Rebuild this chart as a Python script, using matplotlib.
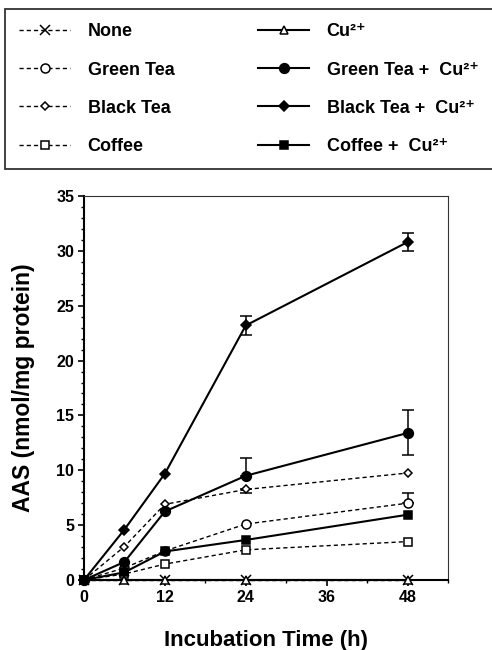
import matplotlib
matplotlib.use('Agg')
import matplotlib.pyplot as plt
from matplotlib.ticker import MultipleLocator
import numpy as np

plt.rcParams['font.family'] = ['Liberation Sans', 'DejaVu Sans']
plt.rcParams['font.weight'] = 'bold'

# ---- data ----
time_h = [0, 6, 12, 24, 48]
none_vals = [0, 0, 0, 0, 0]
green_tea = [0, 1.1, 2.65, 5.1, 7.0]
green_tea_err_lo = [0, 0, 0, 0, 0]
green_tea_err_hi = [0, 0, 0, 0, 0.9]
black_tea = [0, 3.05, 6.9, 8.25, 9.75]
black_tea_err_lo = [0, 0, 0, 0.35, 0]
black_tea_err_hi = [0, 0, 0, 0, 0]
coffee = [0, 0.55, 1.45, 2.75, 3.5]
cu_only = [0, 0, 0, 0, 0]
green_tea_cu = [0, 1.65, 6.25, 9.5, 13.4]
green_tea_cu_err_lo = [0, 0, 0, 0, 2.05]
green_tea_cu_err_hi = [0, 0, 0, 1.6, 2.05]
black_tea_cu = [0, 4.6, 9.7, 23.2, 30.8]
black_tea_cu_err_lo = [0, 0, 0, 0.9, 0.85]
black_tea_cu_err_hi = [0, 0, 0, 0.9, 0.85]
coffee_cu = [0, 0.7, 2.6, 3.65, 5.95]

labels = ['None', 'Green Tea', 'Black Tea', 'Coffee',
          'Cu²⁺', 'Green Tea +  Cu²⁺', 'Black Tea +  Cu²⁺', 'Coffee +  Cu²⁺']

fig = plt.figure(figsize=(4.92, 6.5), dpi=100)
ax = fig.add_axes([84/492, 1-580/650, 364/492, 384/650])

dash = dict(ls=(0, (3.0, 2.2)), lw=1.0)
solid = dict(ls='-', lw=1.5)

series = [
    (none_vals, 'x', 'black', dash, 7, None, None),
    (green_tea, 'o', 'white', dash, 6.5, green_tea_err_lo, green_tea_err_hi),
    (black_tea, 'D', 'white', dash, 4.5, black_tea_err_lo, black_tea_err_hi),
    (coffee, 's', 'white', dash, 6, None, None),
    (cu_only, '^', 'white', solid, 5.5, None, None),
    (green_tea_cu, 'o', 'black', solid, 7, green_tea_cu_err_lo, green_tea_cu_err_hi),
    (black_tea_cu, 'D', 'black', solid, 5, black_tea_cu_err_lo, black_tea_cu_err_hi),
    (coffee_cu, 's', 'black', solid, 6, None, None),
]

handles = []
t = np.array(time_h, dtype=float)
for vals, mk, fc, style, ms, elo, ehi in series:
    v = np.array(vals, dtype=float)
    if elo is not None:
        lo = np.array(elo, dtype=float)
        hi = np.array(ehi, dtype=float)
        m = (lo > 0) | (hi > 0)
        ax.errorbar(t[m], v[m], yerr=[lo[m], hi[m]], fmt='none', ecolor='black',
                    elinewidth=1.1, capsize=4, capthick=1.1, zorder=2, clip_on=False)
    ln, = ax.plot(t, v, color='black', marker=mk, markersize=ms,
                  markerfacecolor=fc, markeredgecolor='black', markeredgewidth=1.1,
                  clip_on=False, zorder=3, **style)
    handles.append(ln)

ax.set_xlim(0, 54)
ax.set_ylim(0, 35)
ax.xaxis.set_major_locator(MultipleLocator(12))
ax.xaxis.set_minor_locator(MultipleLocator(6))
ax.yaxis.set_major_locator(MultipleLocator(5))
ax.yaxis.set_minor_locator(MultipleLocator(1))
ax.tick_params(which='major', direction='out', length=4, width=1.2, labelsize=11.5, pad=3)
ax.tick_params(which='minor', direction='out', length=2.5, width=1.0)
for s in ['left', 'bottom']:
    ax.spines[s].set_linewidth(1.5)
for s in ['top', 'right']:
    ax.spines[s].set_linewidth(0.8)
    ax.spines[s].set_color('#333333')

ax.set_xlabel('Incubation Time (h)', fontsize=16, fontweight='bold', labelpad=18.5)
ax.set_ylabel('AAS (nmol/mg protein)', fontsize=16.5, fontweight='bold', labelpad=15)

leg = fig.legend(handles, labels, ncol=2, loc='upper left',
                 bbox_to_anchor=(5/492, 1-9/650), frameon=True, fancybox=False,
                 edgecolor='black', fontsize=13, handlelength=2.78, handletextpad=1.0,
                 columnspacing=4.65, labelspacing=1.17, borderpad=0.8, borderaxespad=0)
leg.get_frame().set_linewidth(1.3)

fig.savefig('out.png', dpi=100)
